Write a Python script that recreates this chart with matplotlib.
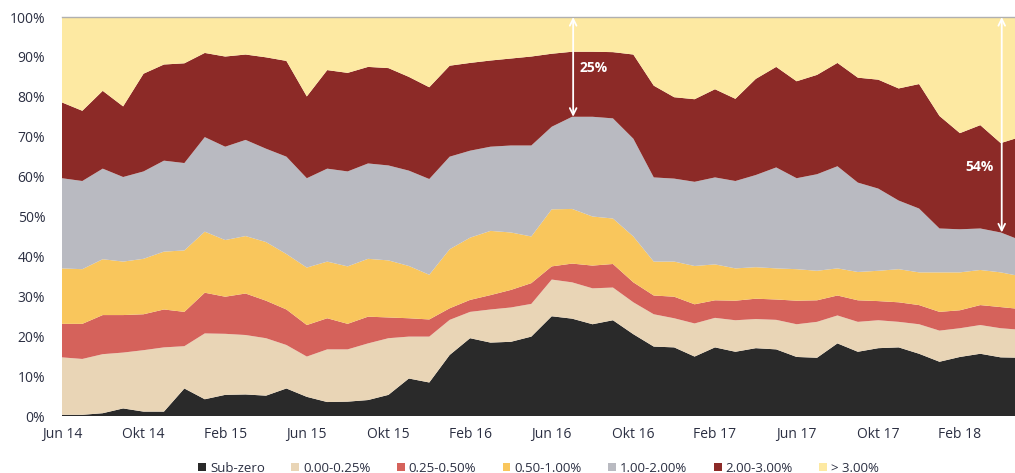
import matplotlib
matplotlib.use("Agg")
import matplotlib.pyplot as plt
import numpy as np
import pandas as pd

#-------data (share of volume by interest rate bucket, %)-------
months = pd.date_range("2014-06-01", "2018-05-01", freq="MS")

sub_zero = [0.3, 0.3, 0.7, 1.9, 1.1, 1.1, 6.9, 4.2, 5.3, 5.4, 5.1, 6.9,
            4.8, 3.5, 3.6, 4.0, 5.3, 9.4, 8.4, 15.3, 19.5, 18.4, 18.6, 19.9,
            25.0, 24.4, 23.0, 24.0, 20.5, 17.4, 17.2, 14.9, 17.2, 16.1, 17.0, 16.7,
            14.8, 14.6, 18.2, 16.1, 17.0, 17.2, 15.6, 13.6, 14.8, 15.6, 14.7, 14.6]
r000_025 = [14.4, 14.0, 14.8, 14.0, 15.4, 16.1, 10.6, 16.5, 15.3, 14.9, 14.4, 10.9,
            10.1, 13.2, 13.1, 14.2, 14.2, 10.5, 11.5, 8.8, 6.6, 8.3, 8.6, 8.2,
            9.2, 9.1, 9.0, 8.2, 8.0, 8.1, 7.3, 8.3, 7.4, 7.9, 7.3, 7.4,
            8.2, 9.0, 7.0, 7.5, 7.0, 6.4, 7.4, 7.8, 7.2, 7.2, 7.3, 7.0]
r025_050 = [8.4, 8.8, 9.8, 9.4, 9.0, 9.5, 8.6, 10.2, 9.3, 10.4, 9.4, 8.9,
            7.9, 7.8, 6.4, 6.7, 5.2, 4.6, 4.3, 2.9, 3.0, 3.6, 4.4, 5.2,
            3.3, 4.7, 5.7, 5.9, 5.0, 4.7, 5.4, 4.8, 4.4, 4.9, 5.1, 5.1,
            5.9, 5.4, 5.0, 5.4, 4.8, 4.9, 4.8, 4.7, 4.5, 5.0, 5.3, 5.2]
r050_100 = [13.9, 13.7, 14.0, 13.4, 13.9, 14.5, 15.4, 15.3, 14.2, 14.4, 14.7, 13.9,
            14.4, 14.2, 14.4, 14.5, 14.3, 13.1, 11.2, 14.8, 15.6, 16.1, 14.4, 11.7,
            14.3, 13.7, 12.3, 11.4, 11.5, 8.5, 8.8, 9.6, 9.0, 8.1, 7.9, 7.8,
            7.9, 7.4, 6.8, 7.1, 7.6, 8.3, 8.2, 9.9, 9.5, 8.8, 8.7, 8.2]
r100_200 = [22.6, 22.1, 22.7, 21.2, 21.9, 22.8, 21.9, 23.7, 23.4, 24.1, 23.4, 24.4,
            22.4, 23.3, 23.8, 23.9, 23.8, 23.9, 24.0, 23.2, 21.8, 21.1, 21.8, 22.8,
            20.7, 23.1, 25.0, 25.1, 24.5, 21.1, 20.8, 21.1, 21.8, 21.9, 23.1, 25.3,
            22.8, 24.2, 25.6, 22.4, 20.6, 17.2, 16.0, 11.0, 10.8, 10.4, 10.0, 9.0]
r200_300 = [19.0, 17.6, 19.5, 17.7, 24.5, 24.1, 25.0, 21.1, 22.6, 21.4, 22.9, 24.0,
            20.5, 24.7, 24.7, 24.2, 24.4, 23.5, 23.0, 22.8, 22.0, 21.6, 21.8, 22.3,
            18.3, 16.3, 16.3, 16.6, 21.1, 23.0, 20.4, 20.7, 22.1, 20.6, 24.1, 25.2,
            24.3, 24.9, 25.9, 26.3, 27.3, 28.1, 31.2, 28.2, 24.1, 25.9, 22.4, 26.0]
r300_up = [21.4, 23.5, 18.5, 22.4, 14.2, 11.9, 11.6, 9.0, 9.9, 9.4, 10.1, 11.0,
           19.9, 13.3, 14.0, 12.5, 12.8, 15.0, 17.6, 12.2, 11.5, 10.9, 10.4, 9.9,
           9.2, 8.7, 8.7, 8.8, 9.4, 17.2, 20.1, 20.6, 18.1, 20.5, 15.5, 12.5,
           16.1, 14.5, 11.5, 15.2, 15.7, 17.9, 16.8, 24.8, 29.1, 27.1, 31.6, 30.0]

labels = ["Sub-zero", "0.00-0.25%", "0.25-0.50%", "0.50-1.00%",
          "1.00-2.00%", "2.00-3.00%", "> 3.00%"]
colors = ["#2a2a2a", "#e9d5b6", "#d5625b", "#f9c65c",
          "#b9bac1", "#8c2a27", "#fde9a2"]

tick_pos = list(range(0, 48, 4))
tick_labels = ["Jun 14", "Okt 14", "Feb 15", "Jun 15", "Okt 15", "Feb 16",
               "Jun 16", "Okt 16", "Feb 17", "Jun 17", "Okt 17", "Feb 18"]

# months where the arrows show the share above 2%
arrow_months = [25, 46]

#-------graph-------
plt.rcParams["font.family"] = ["Open Sans", "DejaVu Sans"]
fig = plt.figure(figsize=(10.15, 4.73), dpi=100)
ax = fig.add_axes([0.061, 0.1205, 0.939, 0.8435])

x = np.arange(len(months))
series = [sub_zero, r000_025, r025_050, r050_100, r100_200, r200_300, r300_up]
ax.stackplot(x, *series, colors=colors, labels=labels, linewidth=0)

ax.set_xlim(0, 46.7)
ax.set_ylim(0, 100)
ax.set_yticks(range(0, 101, 10))
ax.set_yticklabels([f"{v}%" for v in range(0, 101, 10)])
ax.set_xticks(tick_pos)
ax.set_xticklabels(tick_labels)
ax.tick_params(length=0, labelsize=10, labelcolor="#2b2f42")
ax.tick_params(axis="y", pad=12)
ax.tick_params(axis="x", pad=8)

for side in ["left", "right", "bottom"]:
    ax.spines[side].set_visible(False)
ax.spines["top"].set_color("#b0b0b0")
ax.spines["top"].set_linewidth(1.0)

# arrows from 100% down to the top of the 1-2% band
grey_top = np.array(sub_zero) + r000_025 + r025_050 + r050_100 + r100_200
for i, m in enumerate(arrow_months):
    low = grey_top[m]
    ax.annotate("", xy=(m + 0.05, low), xytext=(m + 0.05, 100),
                arrowprops=dict(arrowstyle="<->", color="white", lw=1.3,
                                shrinkA=0, shrinkB=0, mutation_scale=12))
    share = f"{100 - low:.0f}%"
    if i == 0:
        ax.text(m + 0.35, 87.3, share, color="white", fontsize=10,
                fontweight="bold", ha="left", va="center")
    else:
        ax.text(m - 0.35, 62.5, share, color="white", fontsize=10,
                fontweight="bold", ha="right", va="center")

ax.legend(loc="upper center", bbox_to_anchor=(0.5, -0.085), ncol=7,
          frameon=False, fontsize=9.5, handlelength=0.6, handleheight=0.6,
          handletextpad=0.3, columnspacing=2.0, labelcolor="#2b2f42")

fig.savefig("out.png", dpi=100)
